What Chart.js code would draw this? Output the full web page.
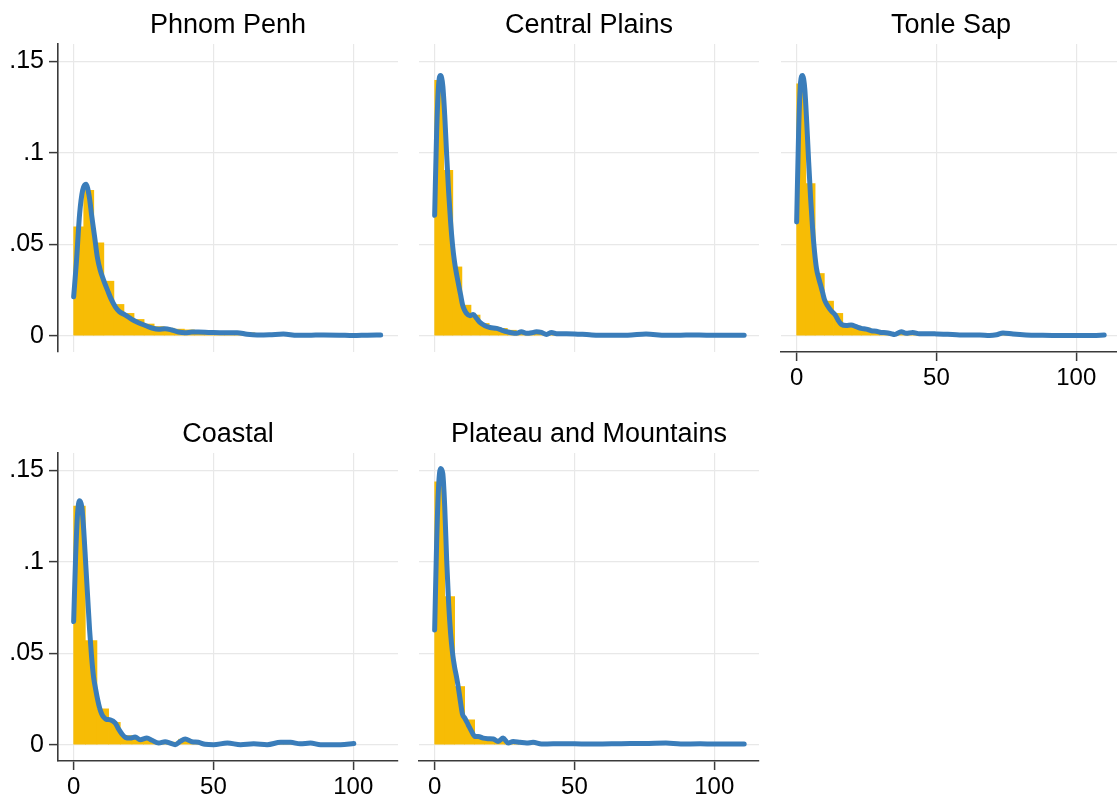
<!DOCTYPE html>
<html><head><meta charset="utf-8">
<script src="https://cdn.jsdelivr.net/npm/chart.js@4"></script>
<style>
html,body{margin:0;padding:0;background:#fff;overflow:hidden;}
#wrap{position:relative;width:1117px;height:797px;overflow:hidden;background:#fff;}
canvas{position:absolute;}
</style></head><body><div id="wrap"></div>
<script>
// ---- data ----
const titles = ['Phnom Penh', 'Central Plains', 'Tonle Sap', 'Coastal', 'Plateau and Mountains'];
const xTicks = [0, 50, 100];
const yTicks = [0, 0.05, 0.1, 0.15];
const yTickLabels = ['0', '.05', '.1', '.15'];
const binWidths = [3.6, 3.25, 3.3, 4.17, 3.58];

// histogram densities (per bin, starting at 0)
const ppBins = [0.0595, 0.0795, 0.0507, 0.0298, 0.0171, 0.0122, 0.0089, 0.0064, 0.0050, 0.0041, 0.0036, 0.0032, 0.0024, 0.0020, 0.0020, 0.0018, 0.0019, 0.0016, 0.0013, 0.0008, 0.0006, 0.0007, 0.0004, 0.0003, 0.0002, 0.0003, 0.0002, 0.0002, 0.0001, 0.0002];
const cpBins = [0.1395, 0.0904, 0.0376, 0.0167, 0.0113, 0.0067, 0.0049, 0.0040, 0.0030, 0.0022, 0.0017, 0.0018, 0.0014, 0.0012, 0.0009, 0.0007, 0.0006, 0.0005, 0.0004, 0.0004, 0.0003, 0.0004, 0.0003, 0.0003, 0.0004, 0.0002, 0.0002, 0.0003, 0.0002, 0.0002, 0.0002, 0.0001, 0.0002, 0.0002];
const tsBins = [0.1376, 0.0831, 0.0340, 0.0189, 0.0122, 0.0067, 0.0052, 0.0042, 0.0030, 0.0022, 0.0016, 0.0018, 0.0014, 0.0011, 0.0010, 0.0008, 0.0006, 0.0005, 0.0004, 0.0004, 0.0005, 0.0007, 0.0012, 0.0008, 0.0004, 0.0003, 0.0002, 0.0002, 0.0002, 0.0001, 0.0002, 0.0002, 0.0002];
const coBins = [0.1304, 0.0569, 0.0196, 0.0122, 0.0050, 0.0030, 0.0025, 0.0012, 0.0014, 0.0030, 0.0010, 0.0003, 0.0004, 0.0005, 0.0002, 0.0004, 0.0003, 0.0011, 0.0012, 0.0008, 0.0005, 0.0002, 0.0003, 0.0006];
const pmBins = [0.1436, 0.0809, 0.0318, 0.0136, 0.0045, 0.0036, 0.0030, 0.0018, 0.0013, 0.0010, 0.0007, 0.0005, 0.0005, 0.0004, 0.0004, 0.0003, 0.0003, 0.0003, 0.0004, 0.0004, 0.0003, 0.0004, 0.0005, 0.0003, 0.0003, 0.0002, 0.0003, 0.0002, 0.0002, 0.0002, 0.0002];

// kernel density curves
const ppKx = [0, 0.95, 2.14, 3.21, 4.4, 5.6, 6.5, 7.5, 8.45, 9.5, 10.7, 12.1, 13.3, 14.9, 16.4, 18.5, 20.8, 23.2, 25.6, 28, 30.4, 32.7, 35.1, 37.5, 39.9, 42.3, 44.6, 48.2, 50, 54, 58.5, 62, 65.6, 70, 75, 80, 85, 89.5, 95, 100, 105, 109.8];
const ppKy = [0.0213, 0.0395, 0.0667, 0.0795, 0.0828, 0.0758, 0.065, 0.054, 0.0431, 0.0358, 0.0304, 0.0249, 0.0204, 0.0158, 0.0131, 0.0113, 0.0089, 0.0071, 0.0056, 0.0042, 0.0035, 0.0038, 0.0031, 0.002, 0.0016, 0.002, 0.002, 0.0018, 0.0017, 0.0016, 0.0016, 0.0008, 0.0004, 0.0005, 0.0009, 0.0002, 0.0003, 0.0004, 0.0003, 0.0001, 0.0003, 0.0004];
const cpKx = [0, 0.7, 1.4, 2.1, 2.9, 3.6, 4.3, 5, 5.7, 6.4, 7.1, 7.9, 8.6, 9.3, 10, 10.7, 11.4, 12.6, 13.8, 15, 16.2, 18, 19.8, 22.1, 23.9, 25.7, 27.5, 29.3, 31, 32.9, 34.7, 36.4, 38.2, 40, 41.8, 43.6, 47.1, 50, 55.4, 61, 65, 69, 75.6, 82.7, 88, 94.6, 100, 105, 110.7];
const cpKy = [0.0658, 0.111, 0.1367, 0.1422, 0.1367, 0.1204, 0.0985, 0.0785, 0.0622, 0.0495, 0.0404, 0.0331, 0.0276, 0.0222, 0.0167, 0.014, 0.0122, 0.0109, 0.0116, 0.0095, 0.0073, 0.0055, 0.0045, 0.004, 0.0031, 0.0022, 0.0016, 0.0013, 0.0022, 0.0013, 0.0016, 0.0022, 0.0018, 0.0007, 0.0018, 0.0011, 0.0011, 0.001, 0.0005, 0.0002, 0.0003, 0.0003, 0.0009, 0.0002, 0.0003, 0.0004, 0.0002, 0.0003, 0.0002];
const tsKx = [0, 0.7, 1.4, 2.1, 2.9, 3.6, 4.3, 5, 5.7, 6.4, 7.1, 7.9, 8.6, 9.3, 10, 11, 12.4, 13.8, 14.8, 16, 17.7, 19.5, 21.3, 23.1, 24.9, 26.7, 28.5, 30.2, 32, 33.8, 35, 37.4, 39.2, 41.5, 43.9, 46.9, 50, 54, 58.3, 62, 65.5, 69, 71.5, 73.8, 77.4, 82, 88, 94, 100, 106, 110];
const tsKy = [0.0622, 0.1113, 0.1385, 0.1422, 0.1349, 0.1167, 0.0949, 0.0749, 0.0585, 0.0458, 0.0367, 0.0313, 0.0275, 0.0235, 0.0195, 0.0165, 0.0135, 0.0113, 0.0085, 0.0062, 0.0056, 0.0058, 0.0049, 0.004, 0.0036, 0.0027, 0.0024, 0.0018, 0.0016, 0.0011, 0.0007, 0.0022, 0.0013, 0.0018, 0.0011, 0.0011, 0.001, 0.0008, 0.0004, 0.0004, 0.0004, 0.0001, 0.0005, 0.0015, 0.0009, 0.0004, 0.0002, 0.0001, 0.0001, 0.0001, 0.0004];
const coKx = [0, 0.7, 1.4, 2.1, 2.9, 3.6, 4.3, 5, 5.7, 6.4, 7.1, 7.9, 8.6, 9.3, 10, 10.7, 11.5, 13.1, 14.9, 16.1, 17.3, 18.5, 20.2, 22, 23.8, 26.2, 28, 30.4, 32.7, 34.5, 36.3, 38.1, 39.9, 42.3, 44.6, 47, 50, 55, 59.7, 64.4, 69.2, 74, 77.6, 81, 84.7, 88.3, 95.5, 100.2];
const coKy = [0.0673, 0.1027, 0.1264, 0.1333, 0.13, 0.1173, 0.0991, 0.0809, 0.0627, 0.0482, 0.0373, 0.03, 0.0245, 0.02, 0.0169, 0.0151, 0.014, 0.0136, 0.0118, 0.0085, 0.0058, 0.004, 0.0036, 0.0042, 0.0027, 0.0036, 0.0024, 0.0009, 0.0016, 0.0009, 0.0, 0.0018, 0.0031, 0.0016, 0.0013, 0.0002, 0.0, 0.0009, 0.0, 0.0005, 0.0, 0.0013, 0.0013, 0.0005, 0.0009, 0.0, 0.0, 0.0007];
const pmKx = [0, 0.7, 1.4, 2.1, 2.9, 3.6, 4.3, 5, 5.7, 6.4, 7.1, 7.9, 8.6, 9.3, 10, 10.8, 12, 13.2, 14.4, 15.6, 17.4, 19.2, 21, 22.7, 24.5, 26.3, 28.1, 30.5, 32.9, 35.2, 38.2, 42.4, 47.1, 50, 55, 60, 65, 70, 75, 82.7, 88, 95, 100, 105, 110.7];
const pmKy = [0.0627, 0.11, 0.1409, 0.1509, 0.1482, 0.13, 0.1009, 0.0773, 0.0609, 0.05, 0.0427, 0.0364, 0.03, 0.0227, 0.0164, 0.0145, 0.0109, 0.0073, 0.0045, 0.0045, 0.0036, 0.0033, 0.0031, 0.0018, 0.0036, 0.0009, 0.0018, 0.0013, 0.0009, 0.0013, 0.0004, 0.0005, 0.0005, 0.0005, 0.0004, 0.0004, 0.0005, 0.0006, 0.0006, 0.0009, 0.0004, 0.0005, 0.0004, 0.0004, 0.0004];

// ---- layout / style ----
const X_MIN = -5.6, X_MAX = 116, Y_MIN = -0.0089, Y_MAX = 0.1594;
const FONT = '"Liberation Sans", Arial, Helvetica, sans-serif';
const BAR_COLOR = '#f7bc05';
const LINE_COLOR = '#3a7dba';
const GRID_COLOR = '#e8e8e8';
const AXIS_COLOR = '#3a3a3a';
const Y_W = 58, TOP_H = 44, X_H = 46, AREA_W = 340, AREA_H = 308;

const panels = [
  {title: titles[0], bins: ppBins, w: binWidths[0], kx: ppKx, ky: ppKy, left: 58,  top: 44,  showY: true,  showX: false},
  {title: titles[1], bins: cpBins, w: binWidths[1], kx: cpKx, ky: cpKy, left: 419, top: 44,  showY: false, showX: false},
  {title: titles[2], bins: tsBins, w: binWidths[2], kx: tsKx, ky: tsKy, left: 781, top: 44,  showY: false, showX: true},
  {title: titles[3], bins: coBins, w: binWidths[3], kx: coKx, ky: coKy, left: 58,  top: 453, showY: true,  showX: true},
  {title: titles[4], bins: pmBins, w: binWidths[4], kx: pmKx, ky: pmKy, left: 419, top: 453, showY: false, showX: true},
];

const panelTitle = {
  id: 'panelTitle',
  afterDraw(chart, args, opts) {
    const {ctx, chartArea} = chart;
    ctx.save();
    ctx.font = '27px ' + FONT;
    ctx.fillStyle = '#000';
    ctx.textAlign = 'center';
    ctx.textBaseline = 'alphabetic';
    ctx.fillText(opts.text, (chartArea.left + chartArea.right) / 2, chartArea.top - 11);
    ctx.restore();
  }
};

const wrap = document.getElementById('wrap');
panels.forEach(p => {
  const cv = document.createElement('canvas');
  const W = Y_W + AREA_W + 1, H = TOP_H + AREA_H + X_H;
  cv.width = W; cv.height = H;
  cv.style.width = W + 'px'; cv.style.height = H + 'px';
  cv.style.left = (p.left - Y_W) + 'px';
  cv.style.top = (p.top - TOP_H) + 'px';
  wrap.appendChild(cv);

  const barData = p.bins.map((h, i) => ({x: (i + 0.5) * p.w, y: h}));
  const lineData = p.kx.map((x, i) => ({x: x, y: p.ky[i]}));

  new Chart(cv, {
    type: 'bar',
    data: {
      datasets: [
        {type: 'line', data: lineData, borderColor: LINE_COLOR, borderWidth: 5, pointRadius: 0,
         cubicInterpolationMode: 'monotone', borderCapStyle: 'round', borderJoinStyle: 'round', fill: false, order: 0},
        {type: 'bar', data: barData, backgroundColor: BAR_COLOR, borderWidth: 0,
         barPercentage: 1, categoryPercentage: 1, grouped: false, order: 1}
      ]
    },
    options: {
      responsive: false, animation: false, devicePixelRatio: 1,
      layout: {padding: {left: 0, right: 1, top: TOP_H, bottom: 0}},
      plugins: {legend: {display: false}, tooltip: {enabled: false}, title: {display: false},
                panelTitle: {text: p.title}},
      scales: {
        x: {
          type: 'linear', min: X_MIN, max: X_MAX, offset: false,
          afterBuildTicks: s => { s.ticks = xTicks.map(v => ({value: v})); },
          afterFit: s => { s.height = X_H; },
          grid: {color: GRID_COLOR, lineWidth: 1.2, offset: false, drawTicks: p.showX, tickLength: 9,
                 tickColor: AXIS_COLOR, tickWidth: 1.5},
          border: {display: p.showX, color: AXIS_COLOR, width: 1.6},
          ticks: {display: p.showX, autoSkip: false, maxRotation: 0, padding: 3, color: '#000',
                  font: {family: FONT, size: 24}, callback: v => String(v)}
        },
        y: {
          type: 'linear', min: Y_MIN, max: Y_MAX,
          afterBuildTicks: s => { s.ticks = yTicks.map(v => ({value: v})); },
          afterFit: s => { s.width = Y_W; },
          grid: {color: GRID_COLOR, lineWidth: 1.2, drawTicks: p.showY, tickLength: 9,
                 tickColor: AXIS_COLOR, tickWidth: 1.5},
          border: {display: p.showY, color: AXIS_COLOR, width: 1.6},
          ticks: {display: p.showY, autoSkip: false, padding: 5, color: '#000',
                  font: {family: FONT, size: 25},
                  callback: v => { const i = yTicks.indexOf(v); return i >= 0 ? yTickLabels[i] : ''; }}
        }
      }
    },
    plugins: [panelTitle]
  });
});
</script></body></html>
